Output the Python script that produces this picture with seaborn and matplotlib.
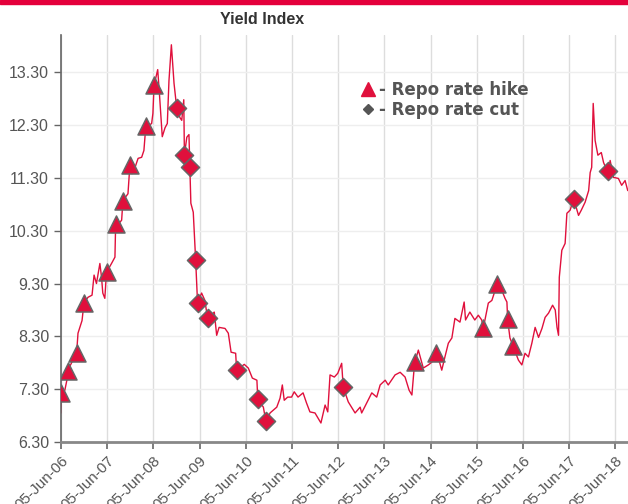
import pandas as pd
import matplotlib.pyplot as plt
import matplotlib.dates as mdates
from matplotlib.lines import Line2D
from matplotlib.patches import Rectangle
import seaborn as sns

# yield index
dates = [
    "2006-06-05", "2006-06-10", "2006-07-06", "2006-07-27", "2006-07-30", "2006-09-08",
    "2006-10-07", "2006-10-18", "2006-11-19", "2006-12-04", "2007-01-05", "2007-02-06",
    "2007-02-22", "2007-03-13", "2007-04-09", "2007-04-22", "2007-05-02", "2007-05-18",
    "2007-05-31", "2007-07-10", "2007-08-06", "2007-08-11", "2007-09-28", "2007-10-08",
    "2007-11-17", "2007-12-03", "2007-12-19", "2008-01-12", "2008-02-05", "2008-03-04",
    "2008-03-22", "2008-04-05", "2008-05-22", "2008-06-01", "2008-06-10", "2008-07-09",
    "2008-07-21", "2008-08-04", "2008-08-14", "2008-09-05", "2008-09-23", "2008-10-06",
    "2008-10-25", "2008-11-15", "2008-12-06", "2009-01-01", "2009-01-15", "2009-01-31",
    "2009-02-05", "2009-02-24", "2009-03-13", "2009-03-20", "2009-03-28", "2009-04-16",
    "2009-05-05", "2009-05-20", "2009-06-21", "2009-07-17", "2009-08-07", "2009-09-29",
    "2009-10-18", "2009-11-06", "2009-12-23", "2010-01-18", "2010-02-09", "2010-03-17",
    "2010-03-25", "2010-05-24", "2010-06-25", "2010-07-27", "2010-09-01", "2010-09-08",
    "2010-10-22", "2010-11-12", "2010-12-14", "2011-02-05", "2011-03-03", "2011-03-21",
    "2011-04-05", "2011-05-02", "2011-06-02", "2011-06-23", "2011-07-23", "2011-09-01",
    "2011-09-28", "2011-10-25", "2011-12-04", "2012-01-20", "2012-02-22", "2012-03-14",
    "2012-04-01", "2012-05-05", "2012-06-01", "2012-07-02", "2012-07-14", "2012-08-23",
    "2012-10-16", "2012-11-25", "2012-12-07", "2013-01-16", "2013-02-25", "2013-04-05",
    "2013-05-02", "2013-06-11", "2013-07-05", "2013-08-28", "2013-10-07", "2013-11-15",
    "2013-12-17", "2014-01-08", "2014-01-29", "2014-02-28", "2014-04-08", "2014-05-18",
    "2014-06-14", "2014-07-17", "2014-08-17", "2014-09-01", "2014-09-26", "2014-10-23",
    "2014-11-20", "2014-12-14", "2015-01-23", "2015-02-25", "2015-03-08", "2015-04-11",
    "2015-05-20", "2015-06-17", "2015-07-14", "2015-07-26", "2015-09-04", "2015-10-02",
    "2015-11-10", "2015-12-20", "2016-01-14", "2016-01-29", "2016-02-04", "2016-02-22",
    "2016-03-20", "2016-04-29", "2016-05-26", "2016-06-20", "2016-07-17", "2016-08-13",
    "2016-09-08", "2016-10-05", "2016-11-01", "2016-11-26", "2016-12-23", "2017-01-24",
    "2017-02-14", "2017-02-28", "2017-03-12", "2017-03-18", "2017-04-07", "2017-05-03",
    "2017-05-17", "2017-06-12", "2017-07-09", "2017-08-17", "2017-09-08", "2017-10-08",
    "2017-11-05", "2017-11-17", "2017-11-29", "2017-12-11", "2017-12-26", "2018-01-17",
    "2018-02-13", "2018-03-03", "2018-04-06", "2018-04-24", "2018-05-20", "2018-06-28",
    "2018-07-24", "2018-08-20", "2018-09-10",
]
yields = [
    6.85, 7.23, 7.28, 7.53, 7.66, 7.85,
    7.98, 8.36, 8.60, 8.93, 9.04, 9.08,
    9.46, 9.30, 9.68, 9.42, 9.12, 9.02,
    9.51, 9.68, 9.80, 10.36, 10.50, 10.87,
    11.00, 11.57, 11.38, 11.50, 11.67, 11.69,
    11.82, 12.25, 12.33, 12.52, 13.05, 13.35,
    12.95, 12.44, 12.08, 12.25, 12.33, 13.14,
    13.82, 13.09, 12.63, 12.44, 12.39, 12.78,
    11.73, 12.07, 12.12, 11.50, 10.82, 10.65,
    9.74, 8.93, 9.12, 8.98, 8.64, 8.76,
    8.32, 8.47, 8.45, 8.36, 8.00, 7.98,
    7.66, 7.77, 7.70, 7.51, 7.47, 7.11,
    6.96, 6.68, 6.85, 6.96, 7.13, 7.38,
    7.09, 7.15, 7.15, 7.25, 7.15, 7.23,
    7.04, 6.87, 6.85, 6.66, 7.00, 6.87,
    7.57, 7.53, 7.60, 7.79, 7.34, 7.06,
    6.85, 6.96, 6.85, 7.04, 7.23, 7.15,
    7.38, 7.47, 7.38, 7.57, 7.62, 7.53,
    7.28, 7.19, 7.79, 8.04, 7.70, 7.76,
    7.81, 7.98, 7.79, 7.66, 7.91, 8.17,
    8.27, 8.64, 8.57, 8.95, 8.61, 8.76,
    8.61, 8.70, 8.61, 8.45, 8.93, 8.98,
    9.27, 9.17, 9.02, 8.95, 8.61, 8.27,
    8.10, 7.85, 7.76, 7.98, 7.91, 8.17,
    8.47, 8.28, 8.45, 8.66, 8.74, 8.89,
    8.80, 8.47, 8.32, 9.42, 9.93, 10.06,
    10.63, 10.69, 10.91, 10.59, 10.69, 10.84,
    11.06, 11.40, 11.50, 12.71, 12.01, 11.73,
    11.78, 11.59, 11.40, 11.63, 11.31, 11.29,
    11.16, 11.25, 11.06,
]

hike_dates = ["2006-06-08", "2006-07-30", "2006-10-07", "2006-12-04", "2007-06-01",
              "2007-08-11", "2007-10-08", "2007-12-03", "2008-04-05", "2008-06-10",
              "2014-01-29", "2014-07-17", "2015-07-26", "2015-11-10", "2016-02-04",
              "2016-03-20"]
hike_values = [7.22, 7.64, 7.98, 8.93, 9.52, 10.42, 10.86, 11.55, 12.28, 13.06,
               7.82, 7.98, 8.46, 9.30, 8.63, 8.12]

cut_dates = ["2008-12-06", "2009-02-05", "2009-03-20", "2009-05-07", "2009-05-22",
             "2009-08-07", "2010-03-25", "2010-09-08", "2010-11-12", "2012-07-14",
             "2017-07-12", "2018-04-06"]
cut_values = [12.63, 11.73, 11.50, 9.74, 8.93, 8.64, 7.66, 7.11, 6.70, 7.35,
              10.90, 11.43]

tick_dates = ["2006-06-05", "2007-06-05", "2008-06-05", "2009-06-05", "2010-06-05",
              "2011-06-05", "2012-06-05", "2013-06-05", "2014-06-05", "2015-06-05",
              "2016-06-05", "2017-06-05", "2018-06-05"]
y_ticks = [6.3, 7.3, 8.3, 9.3, 10.3, 11.3, 12.3, 13.3]

red = "#E0103C"
txt = "#555555"

df = pd.DataFrame({"date": pd.to_datetime(dates), "yield": yields})
hikes = pd.DataFrame({"date": pd.to_datetime(hike_dates), "yield": hike_values})
cuts = pd.DataFrame({"date": pd.to_datetime(cut_dates), "yield": cut_values})

sns.set_style("white")
plt.rcParams["font.family"] = ["Liberation Sans", "DejaVu Sans"]
fig = plt.figure(figsize=(6.28, 5.04), dpi=100)
ax = fig.add_axes([0.097, 0.123, 0.903, 0.807])

ax.grid(axis="x", color="#dddddd", lw=1)
ax.grid(axis="y", color="#eeeeee", lw=1)
ax.set_axisbelow(True)

sns.lineplot(data=df, x="date", y="yield", color=red, lw=1.0, ax=ax)
sns.scatterplot(data=hikes, x="date", y="yield", marker="^", s=150, color=red,
                edgecolor="#666666", linewidth=1.1, ax=ax, zorder=3)
sns.scatterplot(data=cuts, x="date", y="yield", marker="D", s=85, color=red,
                edgecolor="#666666", linewidth=1.1, ax=ax, zorder=3)

ax.set_xlim(pd.Timestamp("2006-06-05"), pd.Timestamp("2018-09-12"))
ax.set_ylim(6.3, 14.0)
ax.set_xticks(pd.to_datetime(tick_dates))
ax.xaxis.set_major_formatter(mdates.DateFormatter("%d-%b-%y"))
ax.set_yticks(y_ticks)
ax.set_yticklabels([f"{v:.2f}" for v in y_ticks])
ax.set_xlabel("")
ax.set_ylabel("")

for lab in ax.get_xticklabels():
    lab.set_rotation(45)
    lab.set_ha("right")
    lab.set_rotation_mode("anchor")
ax.tick_params(axis="x", colors="#666666", labelcolor=txt, labelsize=11, length=5, width=1.2, direction="out", bottom=True)
ax.tick_params(axis="y", colors="#666666", labelcolor=txt, labelsize=11.5, length=5, width=1, direction="out", left=True)

for s in ["top", "right"]:
    ax.spines[s].set_visible(False)
ax.spines["left"].set_color("#666666")
ax.spines["left"].set_linewidth(1.2)
ax.spines["bottom"].set_color("#888888")
ax.spines["bottom"].set_linewidth(2)

handles = [
    Line2D([], [], ls="none", marker="^", markersize=10, color=red),
    Line2D([], [], ls="none", marker="D", markersize=5, color=txt),
]
ax.legend(handles, ["- Repo rate hike", "- Repo rate cut"], loc="upper left",
          bbox_to_anchor=(0.5, 0.925), frameon=False, handlelength=1.0, handletextpad=0.2,
          labelspacing=0.15, prop={"family": "DejaVu Sans", "weight": "bold", "size": 12}, labelcolor=txt)

fig.patches.append(Rectangle((0, 0.992), 1, 0.008, transform=fig.transFigure, color="#E4003B"))
fig.text(0.417, 0.962, "Yield Index", ha="center", va="center", fontsize=11.5, fontweight="bold", color="#333333")

plt.savefig("out.png", dpi=100)
